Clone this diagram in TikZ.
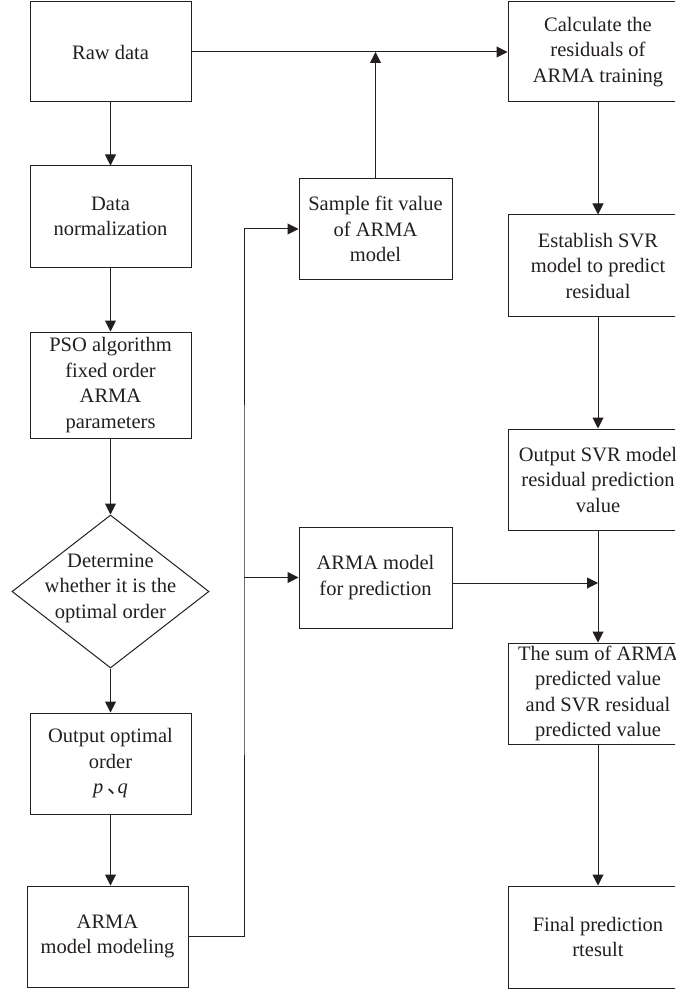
\documentclass[tikz,border=0pt]{standalone}
\usepackage{fontspec}
\setmainfont{Liberation Serif}
\newfontfamily\cjk{Noto Sans CJK SC}
\usepackage{tikz}
\usetikzlibrary{positioning, calc, shapes.geometric, arrows.meta}
\definecolor{ink}{HTML}{231F20}

\begin{document}
\begin{tikzpicture}[x=1pt, y=-1pt,
    txt/.style={text=ink, align=center, font=\fontsize{20.5}{25.5}\selectfont},
    block/.style={txt, draw=ink, line width=1pt, minimum height=101pt, inner sep=2pt},
    leftblock/.style={block, minimum width=161pt},
    midblock/.style={block, minimum width=153pt},
    rightblock/.style={block, minimum width=180pt},
    decision/.style={draw=ink, line width=1pt, diamond, minimum width=197pt, minimum height=153pt, inner sep=0pt},
    line/.style={draw=ink, line width=1pt},
    arrow/.style={line, -{Triangle[length=11pt, width=11pt]}}]
    \useasboundingbox (0,0) rectangle (675,992);
    \fill[white] (0,0) rectangle (675,992);
    \clip (0,0) rectangle (675,992);

    % left column
    \node[leftblock, minimum height=100pt] (raw) at (110.5,52) {Raw data};
    \node[leftblock] (norm) at (110.5,216.5) {Data\\normalization};
    \node[leftblock, minimum height=106pt] (pso) at (110.5,385) {PSO algorithm\\fixed order\\ARMA\\parameters};
    \node[decision] (decide) at (110.5,591.5) {};
    \node[txt] (decidetext) at (110.5,588) {Determine\\whether it is the\\optimal order};
    \node[leftblock] (order) at (110.5,763.5) {Output optimal\\order\\\textit{p}\hspace{0.2em}{\cjk 、}\hspace{-0.5em}\textit{q}};
    \node[leftblock] (armamod) at (107.5,936.5) {ARMA\\model modeling};

    % middle column
    \node[midblock, minimum height=100pt] (sample) at (375.5,229) {Sample fit value\\of ARMA\\model};
    \node[midblock] (pred) at (375.5,577.5) {ARMA model\\for prediction};

    % right column
    \node[rightblock, minimum height=100pt] (calc) at (598,52) {Calculate the\\residuals of\\ARMA training};
    \node[rightblock] (estab) at (598,265.5) {Establish SVR\\model to predict\\residual};
    \node[rightblock] (outsvr) at (598,479.5) {Output SVR model\\residual prediction\\value};
    \node[rightblock] (sum) at (598,693.5) {The sum of ARMA\\predicted value\\and SVR residual\\predicted value};
    \node[rightblock, minimum height=102pt] (final) at (598,937) {Final prediction\\rtesult};

    \coordinate (fork) at (244,577.5);
    \coordinate (merge) at (598,583);

    \draw[arrow] (raw) -- (calc);
    \draw[arrow] (sample) -- (sample |- raw);
    \draw[arrow] (raw) -- (norm);
    \draw[arrow] (norm) -- (pso);
    \draw[arrow] (pso) -- (decide);
    \draw[arrow] (decide) -- (order);
    \draw[arrow] (order) -- (armamod.north -| order);
    \draw[arrow] (armamod.east) -| (fork) |- (sample.west);
    \draw[arrow] (fork) -- (pred);
    \draw[arrow] ([yshift=-5.5pt]pred.east) -- (merge);
    \draw[arrow] (calc) -- (estab);
    \draw[arrow] (estab) -- (outsvr);
    \draw[arrow] (outsvr) -- (sum);
    \draw[arrow] (sum) -- (final);
\end{tikzpicture}
\end{document}
